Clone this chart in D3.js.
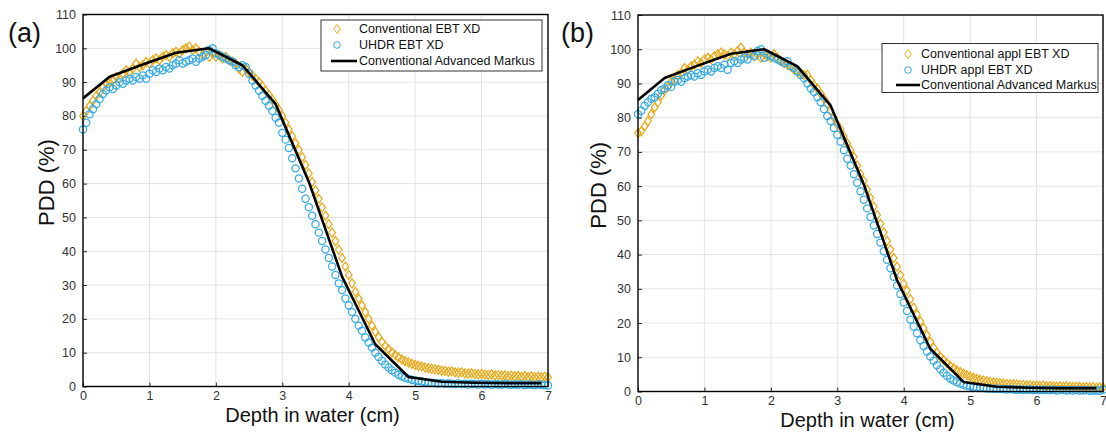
<!DOCTYPE html>
<html>
<head>
<meta charset="utf-8">
<script src="https://cdnjs.cloudflare.com/ajax/libs/d3/7.8.5/d3.min.js"></script>
<style>
  body { margin: 0; background: #fff; }
  svg { display: block; font-family: 'Liberation Sans', Arial, sans-serif; }
</style>
</head>
<body>
<svg id="chart" width="1106" height="434"></svg>
<script>
// film sampling grid, cm (0 to 7 every 0.05)
const depth = d3.range(141).map(i => +(i * 0.05).toFixed(2));

const xTicks = [0, 1, 2, 3, 4, 5, 6, 7];
const yTicks = [0, 10, 20, 30, 40, 50, 60, 70, 80, 90, 100, 110];

// Advanced Markus chamber, same curve in both panels
const markusDepth = [0, 0.4, 0.9, 1.4, 1.9, 2.4, 2.9, 3.4, 3.9, 4.4, 4.9, 5.4, 5.9, 6.4, 6.9];
const markusPdd = [85.2, 91.6, 95.2, 98.7, 100.0, 95.0, 83.5, 60.5, 32.5, 12.5, 2.8, 1.4, 1.1, 1.0, 1.0];

// (a) Conventional EBT XD
const convEbtA = [
  80.0, 81.5, 83.0, 84.5, 86.0, 87.0, 88.5, 89.5, 90.0, 90.5,
  91.5, 91.0, 92.5, 93.5, 93.0, 94.0, 95.5, 94.5, 95.0, 96.0,
  95.5, 96.5, 97.0, 96.5, 97.5, 98.0, 97.5, 98.5, 99.0, 98.5,
  99.5, 100.0, 100.5, 99.5, 100.0, 99.0, 98.0, 99.0, 97.5, 98.5,
  97.5, 98.0, 97.0, 97.5, 96.5, 96.0, 95.5, 94.0, 93.0, 94.0,
  93.0, 92.0, 91.0, 90.0, 88.8, 87.5, 86.2, 84.8, 83.3, 81.8,
  80.0, 78.0, 76.0, 74.0, 72.0, 70.0, 67.8, 65.5, 63.0, 60.5,
  58.0, 55.5, 53.0, 50.5, 48.0, 45.5, 43.0, 40.5, 38.0, 35.5,
  33.0, 30.5, 28.0, 26.0, 24.0, 22.0, 20.0, 18.0, 16.2, 14.6,
  13.2, 12.0, 11.0, 10.1, 9.3, 8.6, 8.0, 7.5, 7.1, 6.7,
  6.4, 6.1, 5.9, 5.6, 5.4, 5.2, 5.1, 4.9, 4.7, 4.6,
  4.4, 4.5, 4.2, 4.1, 4.2, 3.9, 3.8, 3.9, 3.7, 3.6,
  3.7, 3.5, 3.4, 3.6, 3.3, 3.4, 3.2, 3.3, 3.1, 3.2,
  3.0, 3.1, 2.9, 3.1, 2.8, 3.0, 2.8, 2.9, 2.7, 2.9,
  2.7
];

// (a) UHDR EBT XD
const uhdrEbtA = [
  76.0, 78.0, 80.5, 82.0, 83.5, 85.0, 86.5, 87.5, 88.5, 88.0,
  89.0, 90.0, 89.5, 90.5, 91.0, 90.5, 91.5, 91.0, 92.0, 91.0,
  92.5, 93.5, 93.0, 94.0, 93.5, 94.5, 94.0, 95.0, 95.5, 96.5,
  95.5, 96.0, 96.5, 97.0, 96.0, 97.0, 97.5, 98.0, 99.5, 100.0,
  98.5, 98.0, 97.5, 97.0, 96.5, 96.0, 95.0, 94.5, 95.0, 94.5,
  92.5, 90.5, 89.0, 87.5, 86.0, 84.5, 83.0, 81.5, 79.5, 78.0,
  75.0, 73.0, 70.5, 67.5, 64.5, 61.5, 58.5, 55.5, 53.0, 50.5,
  48.0, 45.5, 43.0, 40.5, 38.0, 35.5, 33.0, 30.5, 28.5, 26.0,
  24.0, 22.0, 20.0, 18.0, 16.5, 14.5, 13.0, 11.5, 10.0, 8.7,
  7.6, 6.5, 5.6, 4.8, 4.1, 3.5, 3.0, 2.6, 2.3, 2.0,
  1.8, 1.6, 1.5, 1.3, 1.2, 1.1, 1.0, 0.9, 1.0, 0.8,
  0.9, 0.8, 0.7, 0.9, 0.7, 0.8, 0.6, 0.8, 0.7, 0.6,
  0.8, 0.6, 0.7, 0.5, 0.7, 0.6, 0.5, 0.7, 0.6, 0.5,
  0.6, 0.5, 0.7, 0.4, 0.6, 0.5, 0.4, 0.6, 0.5, 0.4,
  0.3
];

// (b) Conventional appl EBT XD
const convApplB = [
  75.5, 76.0, 77.5, 79.0, 81.0, 83.0, 84.5, 86.5, 88.0, 89.0,
  90.5, 91.0, 92.5, 93.0, 94.5, 94.0, 95.0, 95.5, 96.5, 96.0,
  97.0, 97.5, 97.0, 98.0, 98.5, 99.0, 98.5, 98.0, 99.0, 98.5,
  99.5, 100.5, 99.0, 98.5, 99.0, 98.0, 98.5, 97.5, 98.5, 98.0,
  97.5, 98.5, 97.5, 96.5, 96.0, 95.5, 95.0, 94.0, 93.5, 93.0,
  92.5, 92.5, 91.0, 89.5, 88.5, 87.0, 85.5, 84.0, 82.0, 80.0,
  78.0, 76.5, 74.5, 72.5, 70.5, 68.5, 66.0, 63.5, 61.5, 59.0,
  56.5, 54.0, 51.5, 49.0, 46.5, 44.0, 41.5, 39.0, 36.5, 34.0,
  31.5, 29.5, 27.0, 24.5, 22.5, 20.5, 18.5, 16.5, 14.5, 12.8,
  11.3, 10.2, 9.2, 8.3, 7.5, 6.8, 6.2, 5.7, 5.2, 4.8,
  4.4, 4.0, 3.7, 3.4, 3.2, 3.0, 2.8, 2.7, 2.5, 2.4,
  2.3, 2.2, 2.1, 2.1, 2.0, 1.9, 1.9, 1.8, 1.9, 1.7,
  1.7, 1.6, 1.7, 1.5, 1.6, 1.5, 1.4, 1.5, 1.4, 1.5,
  1.4, 1.3, 1.4, 1.3, 1.2, 1.3, 1.2, 1.3, 1.1, 1.2,
  1.2
];

// (b) UHDR appl EBT XD
const uhdrApplB = [
  81.0, 82.0, 83.5, 84.5, 85.5, 86.0, 87.0, 88.0, 88.5, 89.5,
  89.0, 90.5, 91.0, 90.5, 91.5, 92.0, 92.5, 92.0, 93.0, 92.5,
  93.5, 94.0, 93.5, 94.5, 95.0, 94.5, 95.5, 94.0, 96.0, 96.5,
  96.0, 97.0, 97.5, 97.0, 98.5, 98.0, 99.5, 100.0, 97.5, 98.5,
  98.0, 97.5, 97.0, 96.5, 96.0, 96.5, 95.0, 94.5, 93.5, 92.5,
  91.5, 90.0, 88.5, 87.5, 86.0, 84.5, 82.5, 80.5, 79.0, 77.0,
  75.0, 73.0, 70.5, 68.0, 66.0, 63.5, 61.0, 58.5, 56.0, 53.5,
  51.0, 48.5, 46.0, 43.5, 41.0, 38.5, 36.0, 33.5, 31.0, 28.5,
  26.0, 23.5, 21.0, 19.0, 17.0, 15.0, 13.3, 11.7, 10.2, 9.0,
  7.7, 6.5, 5.5, 4.6, 3.8, 3.2, 2.7, 2.3, 2.0, 1.7,
  1.5, 1.3, 1.2, 1.1, 1.0, 0.9, 0.9, 0.8, 0.8, 0.7,
  0.7, 0.6, 0.7, 0.6, 0.5, 0.6, 0.5, 0.5, 0.6, 0.4,
  0.5, 0.4, 0.5, 0.4, 0.4, 0.5, 0.3, 0.4, 0.4, 0.3,
  0.4, 0.3, 0.4, 0.3, 0.3, 0.4, 0.2, 0.3, 0.3, 0.2,
  0.5
];

const ORANGE = '#e8aa1c';
const BLUE = '#36aae2';
const diamond = 'M0,-4.5L3.3,0L0,4.5L-3.3,0Z';
const MARK_R = 3.6;
const MARK_W = 1.25;

const panels = [
  {
    tag: '(a)', tagX: 8, left: 83, right: 548, top: 14.5, bottom: 386.5,
    xLabelY: 422, yLabelX: 54,
    conv: convEbtA, uhdr: uhdrEbtA,
    names: ['Conventional EBT XD', 'UHDR EBT XD', 'Conventional Advanced Markus'],
    legend: { x: 321, y: 20, w: 221, h: 51, rows: [29, 45, 61], mark: 337, line: [331, 357], text: 359 }
  },
  {
    tag: '(b)', tagX: 561, left: 638, right: 1103, top: 15, bottom: 391.5,
    xLabelY: 427, yLabelX: 606,
    conv: convApplB, uhdr: uhdrApplB,
    names: ['Conventional appl EBT XD', 'UHDR appl EBT XD', 'Conventional Advanced Markus'],
    legend: { x: 882, y: 43.5, w: 216, h: 49, rows: [54, 70, 85], mark: 908, line: [896, 920], text: 921 }
  }
];

const svg = d3.select('#chart');
svg.append('rect').attr('width', 1106).attr('height', 434).attr('fill', '#fff');

function drawPanel(p) {
  const x = d3.scaleLinear().domain([0, 7]).range([p.left, p.right]);
  const y = d3.scaleLinear().domain([0, 110]).range([p.bottom, p.top]);
  const g = svg.append('g');

  // grid
  g.append('g').selectAll('line')
    .data(xTicks.slice(1, -1)).join('line')
    .attr('x1', d => x(d)).attr('x2', d => x(d))
    .attr('y1', p.top).attr('y2', p.bottom)
    .attr('stroke', '#e3e3e3').attr('stroke-width', 1);
  g.append('g').selectAll('line')
    .data(yTicks.slice(1, -1)).join('line')
    .attr('x1', p.left).attr('x2', p.right)
    .attr('y1', d => y(d)).attr('y2', d => y(d))
    .attr('stroke', '#e3e3e3').attr('stroke-width', 1);

  // axes
  const xAxis = g.append('g')
    .attr('transform', `translate(0,${p.bottom})`)
    .call(d3.axisBottom(x).tickValues(xTicks).tickSize(-4).tickPadding(5).tickFormat(d3.format('d')));
  const yAxis = g.append('g')
    .attr('transform', `translate(${p.left},0)`)
    .call(d3.axisLeft(y).tickValues(yTicks).tickSize(-4).tickPadding(7).tickFormat(d3.format('d')));
  [xAxis, yAxis].forEach(a => {
    a.select('.domain').remove();
    a.selectAll('.tick line').attr('stroke', '#262626');
    a.selectAll('.tick text')
      .attr('fill', '#333')
      .style('font-size', '12.5px')
      .style('font-family', "'Liberation Sans', Arial, sans-serif");
  });

  // data
  g.append('g').selectAll('path')
    .data(depth.map((d, i) => [d, p.conv[i]])).join('path')
    .attr('d', diamond)
    .attr('transform', d => `translate(${x(d[0])},${y(d[1])})`)
    .attr('fill', 'none').attr('stroke', ORANGE).attr('stroke-width', MARK_W);

  g.append('g').selectAll('circle')
    .data(depth.map((d, i) => [d, p.uhdr[i]])).join('circle')
    .attr('cx', d => x(d[0])).attr('cy', d => y(d[1])).attr('r', MARK_R)
    .attr('fill', 'none').attr('stroke', BLUE).attr('stroke-width', MARK_W);

  const line = d3.line().x(d => x(d[0])).y(d => y(d[1]));
  g.append('path')
    .datum(markusDepth.map((d, i) => [d, markusPdd[i]]))
    .attr('d', line)
    .attr('fill', 'none').attr('stroke', '#000').attr('stroke-width', 2.6)
    .attr('stroke-linejoin', 'round');

  // box
  g.append('rect')
    .attr('x', p.left).attr('y', p.top)
    .attr('width', p.right - p.left).attr('height', p.bottom - p.top)
    .attr('fill', 'none').attr('stroke', '#000').attr('stroke-width', 1.4);

  // labels
  g.append('text')
    .attr('x', (p.left + p.right) / 2 - 3).attr('y', p.xLabelY)
    .attr('text-anchor', 'middle').style('font-size', '20px').attr('fill', '#111')
    .text('Depth in water (cm)');
  g.append('text')
    .attr('transform', `translate(${p.yLabelX},${(p.top + p.bottom) / 2 - 18}) rotate(-90)`)
    .attr('text-anchor', 'middle').style('font-size', '22px').attr('fill', '#111')
    .text('PDD (%)');
  g.append('text')
    .attr('x', p.tagX).attr('y', 42)
    .style('font-size', '27px').attr('fill', '#111')
    .text(p.tag);

  // legend
  const L = p.legend;
  const lg = g.append('g');
  lg.append('rect')
    .attr('x', L.x).attr('y', L.y).attr('width', L.w).attr('height', L.h)
    .attr('fill', '#fff').attr('stroke', '#333').attr('stroke-width', 1);
  lg.append('path')
    .attr('d', diamond)
    .attr('transform', `translate(${L.mark},${L.rows[0]})`)
    .attr('fill', 'none').attr('stroke', ORANGE).attr('stroke-width', 1);
  lg.append('circle')
    .attr('cx', L.mark).attr('cy', L.rows[1]).attr('r', 3.3)
    .attr('fill', 'none').attr('stroke', BLUE).attr('stroke-width', 1);
  lg.append('line')
    .attr('x1', L.line[0]).attr('x2', L.line[1])
    .attr('y1', L.rows[2]).attr('y2', L.rows[2])
    .attr('stroke', '#000').attr('stroke-width', 2.6);
  lg.selectAll('text')
    .data(p.names).join('text')
    .attr('x', L.text).attr('y', (d, i) => L.rows[i])
    .attr('dy', '0.35em')
    .style('font-size', '12.5px').attr('fill', '#111')
    .text(d => d);
}

panels.forEach(drawPanel);
</script>
</body>
</html>
